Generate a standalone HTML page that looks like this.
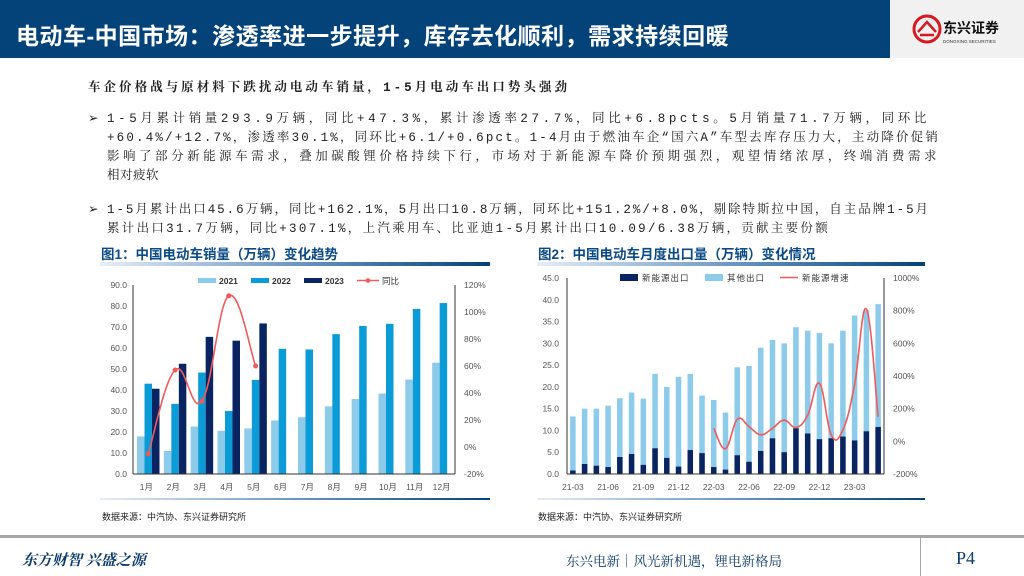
<!DOCTYPE html>
<html><head><meta charset="utf-8">
<style>
*{margin:0;padding:0;box-sizing:border-box}
body{width:1024px;height:576px;position:relative;overflow:hidden;background:#fff;font-family:"Liberation Sans","Noto Sans CJK SC",sans-serif;color:#222}
.abs{position:absolute}
#hdr{left:0;top:0;width:890px;height:58px;background:#034379;color:#fff;font-size:23px;font-weight:bold;padding:17px 0 0 16px;letter-spacing:0.5px}
#logo{left:890px;top:0;width:134px;height:58px;background:#f1f1f1}
.bl{font-size:12.5px;line-height:19px;color:#222;font-family:"Liberation Mono","Noto Serif CJK SC",serif}
.ln{display:block;height:19px;white-space:nowrap}
.ct{font-size:13.5px;font-weight:bold;color:#0a4a86}
.gb{height:4px;background:linear-gradient(90deg,#e6eef6,#6b97c3,#034379)}
.src{font-size:9px;color:#222}
</style></head><body>
<div id="hdr" class="abs">电动车-中国市场：渗透率进一步提升，库存去化顺利，需求持续回暖</div>
<div id="logo" class="abs">
<svg width="134" height="58"><circle cx="37" cy="29" r="13" fill="none" stroke="#d71920" stroke-width="3"/><path d="M28 32 L37 22 L46 32 M30 35 L44 35" stroke="#d71920" stroke-width="2.5" fill="none"/><text x="53" y="33" font-size="14" font-weight="bold" fill="#111" font-family="Noto Sans CJK SC,sans-serif">东兴证券</text><text x="53" y="43" font-size="4.5" fill="#333">DONGXING SECURITIES</text></svg></div>
<div class="abs bl" style="left:88px;top:79px;font-weight:bold"><span class="ln" data-w="482">车企价格战与原材料下跌扰动电动车销量，1-5月电动车出口势头强劲</span></div>
<div class="abs bl" style="left:88px;top:110px">➢</div>
<div class="abs bl" style="left:107px;top:110px">
<span class="ln" data-w="823">1-5月累计销量293.9万辆，同比+47.3%，累计渗透率27.7%，同比+6.8pcts。5月销量71.7万辆，同环比</span>
<span class="ln" data-w="833">+60.4%/+12.7%，渗透率30.1%，同环比+6.1/+0.6pct。1-4月由于燃油车企“国六A”车型去库存压力大，主动降价促销</span>
<span class="ln" data-w="833">影响了部分新能源车需求，叠加碳酸锂价格持续下行，市场对于新能源车降价预期强烈，观望情绪浓厚，终端消费需求</span>
<span class="ln" data-w="52">相对疲软</span></div>
<div class="abs bl" style="left:88px;top:201px">➢</div>
<div class="abs bl" style="left:107px;top:201px">
<span class="ln" data-w="823">1-5月累计出口45.6万辆，同比+162.1%，5月出口10.8万辆，同环比+151.2%/+8.0%，剔除特斯拉中国，自主品牌1-5月</span>
<span class="ln" data-w="723">累计出口31.7万辆，同比+307.1%，上汽乘用车、比亚迪1-5月累计出口10.09/6.38万辆，贡献主要份额</span></div>
<div class="abs ct" style="left:101px;top:243px">图1：中国电动车销量（万辆）变化趋势</div>
<div class="abs gb" style="left:100px;top:262px;width:390px"></div>
<div class="abs ct" style="left:538px;top:243px">图2：中国电动车月度出口量（万辆）变化情况</div>
<div class="abs gb" style="left:537px;top:262px;width:388px"></div>
<div class="abs gb" style="left:100px;top:498px;width:390px;height:2px"></div>
<div class="abs gb" style="left:537px;top:498px;width:388px;height:2px"></div>
<div class="abs src" style="left:102px;top:510px">数据来源：中汽协、东兴证券研究所</div>
<div class="abs src" style="left:538px;top:510px">数据来源：中汽协、东兴证券研究所</div>
<div class="abs" style="left:0;top:535px;width:1024px;height:3px;background:#a6a6a6"></div>
<div class="abs" style="left:920px;top:538px;width:1px;height:38px;background:#a6a6a6"></div>
<div class="abs" style="left:22px;top:549px;font-size:15px;font-weight:bold;font-style:italic;color:#0a3a6e;font-family:'Noto Serif CJK SC',serif">东方财智 兴盛之源</div>
<div class="abs" style="left:566px;top:550px;font-size:13.5px;color:#0a3a6e;font-family:'Noto Serif CJK SC',serif">东兴电新｜风光新机遇，锂电新格局</div>
<div class="abs" style="left:956px;top:548px;font-size:18px;color:#0a3a6e;font-family:'Liberation Serif',serif">P4</div>
<svg id="c1" class="abs" style="left:95px;top:268px" width="400" height="230"></svg>
<svg id="c2" class="abs" style="left:525px;top:266px" width="410" height="230"></svg>
<script>
const months1=['1月','2月','3月','4月','5月','6月','7月','8月','9月','10月','11月','12月'];
const sales2021=[17.9,11.0,22.6,20.6,21.7,25.5,27.0,32.2,35.7,38.3,45.0,53.0];
const sales2022=[43.0,33.4,48.3,30.0,44.8,59.6,59.3,66.6,70.5,71.5,78.6,81.4];
const sales2023=[40.6,52.5,65.3,63.5,71.7];
const yoy2023=[-5,57,34,112,60];
const leftTicks1=[0,10,20,30,40,50,60,70,80,90];
const rightTicks1=[-20,0,20,40,60,80,100,120];

const months2=['21-03','21-04','21-05','21-06','21-07','21-08','21-09','21-10','21-11','21-12','22-01','22-02','22-03','22-04','22-05','22-06','22-07','22-08','22-09','22-10','22-11','22-12','23-01','23-02','23-03','23-04','23-05'];
const totalExport=[13.2,15.0,15.0,15.7,17.4,18.7,17.3,23.0,20.0,22.3,23.0,18.0,17.0,14.1,24.5,24.8,29.0,30.8,30.0,33.7,32.9,32.4,30.0,32.9,36.4,37.6,39.0];
const nevExport=[0.8,2.3,1.9,1.6,3.9,4.6,2.1,5.9,3.7,1.7,5.5,4.8,1.6,1.0,4.3,2.8,5.3,8.2,5.0,10.5,9.3,8.0,8.2,8.6,7.7,9.8,10.8];
const nevGrowth=[80,-45,135,90,40,80,130,85,160,355,40,70,350,810,150];
const leftTicks2=[0,5,10,15,20,25,30,35,40,45];
const rightTicks2=[-200,0,200,400,600,800,1000];
const xLabels2=['21-03','21-06','21-09','21-12','22-03','22-06','22-09','22-12','23-03'];

// fit text lines to measured widths
document.querySelectorAll('.ln').forEach(el=>{
  el.style.display='inline-block';
  const w=el.getBoundingClientRect().width;
  const n=[...el.textContent].length;
  const t=+el.getAttribute('data-w');
  el.style.letterSpacing=((t-w)/n)+'px';
  el.style.display='block';
});

const NS='http://www.w3.org/2000/svg';
function mk(svg,tag,a,txt){const e=document.createElementNS(NS,tag);for(const k in a)e.setAttribute(k,a[k]);if(txt!=null)e.textContent=txt;svg.appendChild(e);return e;}
function smooth(pts){let d='M'+pts[0][0]+','+pts[0][1];for(let i=0;i<pts.length-1;i++){const p0=pts[Math.max(0,i-1)],p1=pts[i],p2=pts[i+1],p3=pts[Math.min(pts.length-1,i+2)];const t=0.2;d+=' C'+(p1[0]+(p2[0]-p0[0])*t)+','+(p1[1]+(p2[1]-p0[1])*t)+' '+(p2[0]-(p3[0]-p1[0])*t)+','+(p2[1]-(p3[1]-p1[1])*t)+' '+p2[0]+','+p2[1];}return d;}
const TF={'font-family':'Liberation Sans,Noto Sans CJK SC,sans-serif','font-size':'8.5','fill':'#555'};

// chart 1
(function(){
const s=document.getElementById('c1');
const L=38,R=360,T=17,B=206;
const y=v=>B-(v/90)*(B-T), yr=v=>B-((v+20)/140)*(B-T);
const bw=(R-L)/months1.length;
const x=i=>L+bw*i;
leftTicks1.forEach(t=>{const e=mk(s,'text',Object.assign({x:L-6,y:y(t)+3,'text-anchor':'end'},TF),t.toFixed(1));});
rightTicks1.forEach(t=>{const e=mk(s,'text',Object.assign({x:R+9,y:yr(t)+3},TF),t+'%');});
const w=7.5;
sales2021.forEach((v,i)=>{const e=mk(s,'rect',{x:x(i)+4,y:y(v),width:w,height:B-y(v),fill:'#8ccbea'});});
sales2022.forEach((v,i)=>{const e=mk(s,'rect',{x:x(i)+4+w,y:y(v),width:w,height:B-y(v),fill:'#0b9bd7'});});
sales2023.forEach((v,i)=>{const e=mk(s,'rect',{x:x(i)+4+2*w,y:y(v),width:w,height:B-y(v),fill:'#0a2461'});});
mk(s,'line',{x1:L,y1:T,x2:L,y2:B,stroke:'#333','stroke-width':1});
mk(s,'line',{x1:R,y1:T,x2:R,y2:B,stroke:'#333','stroke-width':1});
mk(s,'line',{x1:L,y1:B,x2:R,y2:B,stroke:'#333','stroke-width':1});
months1.forEach((m,i)=>{const e=mk(s,'text',Object.assign({x:x(i)+bw/2,y:B+16,'text-anchor':'middle'},TF),m);});
const pts=yoy2023.map((v,i)=>[x(i)+4+1.5*w,yr(v)]);
const ln=mk(s,'path',{d:smooth(pts),fill:'none',stroke:'#f25a5a','stroke-width':1.6});

pts.forEach(p=>{const e=mk(s,'circle',{cx:p[0],cy:p[1],r:2.5,fill:'#f25a5a'});});
const lg=[['2021','#8ccbea'],['2022','#0b9bd7'],['2023','#0a2461']];
lg.forEach((l,i)=>{const lx=103+i*53;mk(s,'rect',{x:lx,y:10,width:18,height:5,fill:l[1]});const e=mk(s,'text',Object.assign({x:lx+21,y:16},TF,{fill:'#333','font-weight':'bold'}),l[0]);});
mk(s,'line',{x1:262,y1:12.5,x2:284,y2:12.5,stroke:'#f25a5a','stroke-width':1.6});mk(s,'circle',{cx:273,cy:12.5,r:2.3,fill:'#f25a5a'});
const e=mk(s,'text',Object.assign({x:287,y:16},TF,{fill:'#333'}),'同比');
})();

// chart 2
(function(){
const s=document.getElementById('c2');
const L=42,R=359,T=12,B=208;
const y=v=>B-(v/45)*(B-T), yr=v=>B-((v+200)/1200)*(B-T);
const bw=(R-L)/months2.length;
const x=i=>L+bw*i;
leftTicks2.forEach(t=>{const e=mk(s,'text',Object.assign({x:L-8,y:y(t)+3,'text-anchor':'end'},TF),t.toFixed(1));});
rightTicks2.forEach(t=>{const e=mk(s,'text',Object.assign({x:R+9,y:yr(t)+3},TF),t+'%');});
const w=5.5;
totalExport.forEach((v,i)=>{const e=mk(s,'rect',{x:x(i)+(bw-w)/2,y:y(v),width:w,height:B-y(v),fill:'#8ccbea'});});
nevExport.forEach((v,i)=>{const e=mk(s,'rect',{x:x(i)+(bw-w)/2,y:y(v),width:w,height:B-y(v),fill:'#0a2461'});});
mk(s,'line',{x1:L,y1:T,x2:L,y2:B,stroke:'#333'});
mk(s,'line',{x1:R,y1:T,x2:R,y2:B,stroke:'#333'});
mk(s,'line',{x1:L,y1:B,x2:R,y2:B,stroke:'#333'});
xLabels2.forEach(m=>{const i=months2.indexOf(m);const e=mk(s,'text',Object.assign({x:x(i)+bw/2,y:B+16,'text-anchor':'middle'},TF),m);});
const off=months2.length-nevGrowth.length;
const pts=nevGrowth.map((v,i)=>[x(i+off)+bw/2,yr(v)]);
const ln=mk(s,'path',{d:smooth(pts),fill:'none',stroke:'#f25a5a','stroke-width':1.6});

mk(s,'rect',{x:95,y:8,width:18,height:7,fill:'#0a2461'});
mk(s,'rect',{x:180,y:8,width:18,height:7,fill:'#8ccbea'});
mk(s,'line',{x1:255,y1:11.5,x2:273,y2:11.5,stroke:'#f25a5a','stroke-width':1.6});
[['新能源出口',117],['其他出口',202],['新能源增速',277]].forEach(l=>{const e=mk(s,'text',Object.assign({x:l[1],y:15},TF,{fill:'#333','letter-spacing':'1'}),l[0]);});
})();
</script>
</body></html>
